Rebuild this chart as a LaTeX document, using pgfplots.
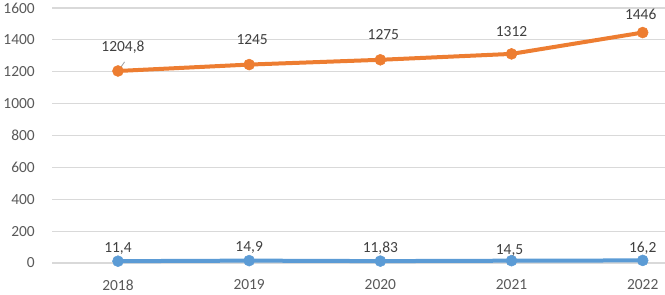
\documentclass[border=0pt]{standalone}
\usepackage{pgfplots}
\pgfplotsset{compat=1.18}
\usepackage{pgfplotstable}
\usepackage{fontspec}
\setmainfont{Carlito}
\definecolor{cOrange}{HTML}{ED7D31}
\definecolor{cBlue}{HTML}{5B9BD5}
\definecolor{cGrid}{HTML}{D9D9D9}
\definecolor{cTick}{HTML}{595959}
\definecolor{cLab}{HTML}{404040}
\pgfplotstableread{
x y lab dy dx
0 1204.8 1204,8 24 5
1 1245 1245 25 3
2 1275 1275 25 3
3 1312 1312 22 0
4 1446 1446 18 -2
}\orange
\pgfplotstableread{
x y lab dy dx
0 11.4 11,4 13 0
1 14.9 14,9 13 0
2 11.83 11,83 13 0
3 14.5 14,5 10 -2
4 16.2 16,2 12 0
}\blue
\begin{document}
\begin{tikzpicture}
\useasboundingbox (-52bp,-32bp) rectangle (613bp,263bp);
\begin{axis}[
  scale only axis,
  width=613bp, height=255bp,
  xmin=-0.503, xmax=4.17,
  ymin=0, ymax=1600,
  xtick={0,1,2,3,4},
  xticklabels={2018,2019,2020,2021,2022},
  ytick={0,200,...,1600},
  /pgf/number format/assume math mode=true,
  /pgf/number format/1000 sep={},
  major tick length=0pt,
  axis line style={draw=none},
  ymajorgrids,
  grid style={cGrid, line width=1.2bp},
  tick label style={font=\fontsize{15.5}{18}\selectfont, text=cTick},
  xticklabel style={anchor=center, inner sep=0pt, yshift=-22bp},
  yticklabel style={anchor=east, inner sep=0pt, xshift=-17bp},
  clip=false,
  nodes near coords,
  point meta=explicit symbolic,
  visualization depends on={\thisrow{dy}\as\dy},
  visualization depends on={\thisrow{dx}\as\dx},
  nodes near coords style={anchor=center, inner sep=0pt, yshift=\dy bp, xshift=\dx bp, text=cLab, font=\fontsize{15.5}{18}\selectfont},
]
\draw[cTick!60, line width=0.8bp] (axis cs:0.02,1226) -- (axis cs:0.05,1262);
\addplot[cBlue, line width=4bp, mark=*, mark size=5.5bp, mark options={solid, fill=cBlue, draw=cBlue, line width=0.5bp}]
  table[x=x, y=y, meta=lab] {\blue};
\addplot[cOrange, line width=4bp, mark=*, mark size=5.5bp, mark options={solid, fill=cOrange, draw=cOrange, line width=0.5bp}]
  table[x=x, y=y, meta=lab] {\orange};
\end{axis}
\end{tikzpicture}
\end{document}
